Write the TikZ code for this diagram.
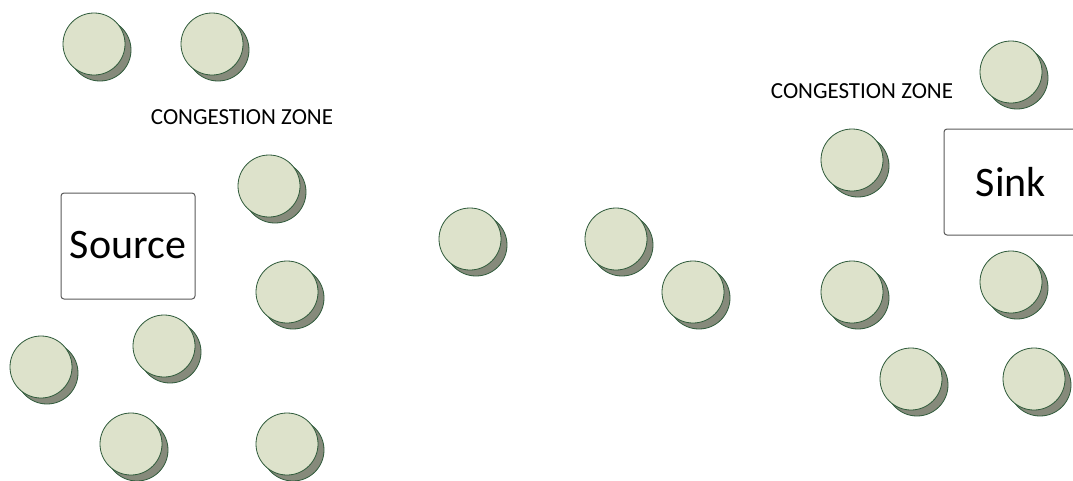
\documentclass[tikz,border=0pt]{standalone}
\usepackage{fontspec}
\setmainfont{Carlito}
\usetikzlibrary{shadows}
\definecolor{Sage}{HTML}{DDE2CB}
\definecolor{Moss}{HTML}{2E5A3A}
\definecolor{Stone}{HTML}{868A7B}
\definecolor{Frame}{HTML}{5A5A5A}
\tikzset{
  mote/.style={circle,draw=Moss,fill=Sage,line width=.8pt,minimum size=62pt,inner sep=0pt,
    general shadow={draw=Moss,fill=Stone,line width=.8pt,shadow xshift=6pt,shadow yshift=-6pt}},
  station/.style={draw=Frame,line width=1pt,rounded corners=3pt,minimum width=134pt,minimum height=106pt,inner sep=0pt,font=\fontsize{42}{42}\selectfont},
  zone/.style={inner sep=0pt,font=\fontsize{23}{23}\selectfont},
}

\begin{document}
\begin{tikzpicture}[x=1pt,y=-1pt]
        \useasboundingbox[fill=white] (0,0) rectangle (1073,480);
        % source side
        \node[station] (src) at (128,246) {\raisebox{3pt}{Source}};
        \node[zone] (zl) at (242,117) {CONGESTION ZONE};
        \node[mote] (a1) at (94,44) {};
        \node[mote] (a2) at (212,44) {};
        \node[mote] (a3) at (269,186) {};
        \node[mote] (a4) at (287,292) {};
        \node[mote] (a5) at (164,346) {};
        \node[mote] (a6) at (41,367) {};
        \node[mote] (a7) at (131,444) {};
        \node[mote] (a8) at (287,444) {};
        % middle
        \node[mote] (b1) at (470,239) {};
        \node[mote] (b2) at (616,239) {};
        \node[mote] (b3) at (693,292) {};
        % sink side
        \node[station] (snk) at (1011,182) {\raisebox{1pt}{Sink}};
        \node[zone] (zr) at (862,91) {CONGESTION ZONE};
        \node[mote] (c1) at (1011,72) {};
        \node[mote] (c2) at (852,160) {};
        \node[mote] (c3) at (852,292) {};
        \node[mote] (c4) at (1011,282) {};
        \node[mote] (c5) at (911,379) {};
        \node[mote] (c6) at (1034,379) {};
      \end{tikzpicture}
\end{document}
